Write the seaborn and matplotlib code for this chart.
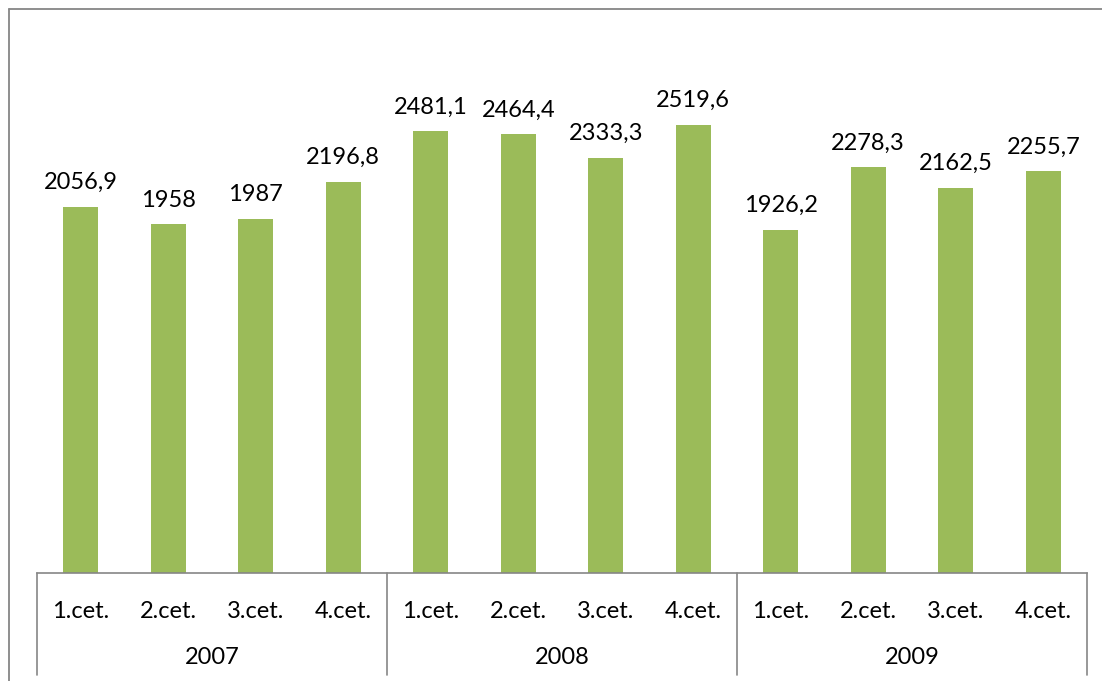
import matplotlib
matplotlib.use("Agg")
import matplotlib.pyplot as plt
import matplotlib.transforms as mtransforms
from matplotlib.lines import Line2D
import seaborn as sns
import pandas as pd

years = ["2007", "2008", "2009"]
quarters = ["1.cet.", "2.cet.", "3.cet.", "4.cet."]
values = [2056.9, 1958, 1987, 2196.8,
          2481.1, 2464.4, 2333.3, 2519.6,
          1926.2, 2278.3, 2162.5, 2255.7]
value_labels = ["2056,9", "1958", "1987", "2196,8",
                "2481,1", "2464,4", "2333,3", "2519,6",
                "1926,2", "2278,3", "2162,5", "2255,7"]

keys = [f"{y} {q}" for y in years for q in quarters]
df = pd.DataFrame({"key": keys, "value": values})

sns.set_theme(style="white")
plt.rcParams["font.family"] = ["Lato", "DejaVu Sans"]

W, H = 1102, 681
fig = plt.figure(figsize=(W / 100, H / 100), dpi=100)
left, right, bottom, top = 37, 1087, 573, 39
ax = fig.add_axes([left / W, 1 - bottom / H, (right - left) / W, (bottom - top) / H])

sns.barplot(data=df, x="key", y="value", order=keys, color="#9BBB59",
            saturation=1, width=0.4, ax=ax, edgecolor="none")

ax.set_ylim(0, 3000)
ax.set_xlim(-0.5, len(keys) - 0.5)
ax.set_xlabel("")
ax.set_ylabel("")
ax.set_yticks([])
for s in ["top", "right", "left"]:
    ax.spines[s].set_visible(False)
ax.spines["bottom"].set_color("#868686")
ax.spines["bottom"].set_linewidth(1.2)

ax.set_xticks(range(len(keys)))
ax.set_xticklabels([q for y in years for q in quarters], fontsize=17, color="black")
ax.tick_params(axis="x", length=0, pad=20)

for i, (v, lab) in enumerate(zip(values, value_labels)):
    ax.annotate(lab, (i, v), xytext=(0, 10), textcoords="offset points",
                ha="center", va="bottom", fontsize=17, color="black")

trans = mtransforms.blended_transform_factory(ax.transData, ax.transAxes)
depth = (675 - 573) / (bottom - top)
for b in [-0.5, 3.5, 7.5, 11.5]:
    ax.add_line(Line2D([b, b], [0, -depth], transform=trans, color="#868686",
                       lw=1.2, clip_on=False))
year_y = -(658 - 573) / (bottom - top)
for gi, y in enumerate(years):
    ax.text(gi * 4 + 1.5, year_y, y, transform=trans, ha="center", va="center",
            fontsize=17, color="black")

# outer chart border (cropped)
bx, by = 8.5 / W, 1 - 9 / H
fig.add_artist(Line2D([bx, bx], [0, by], transform=fig.transFigure, color="#868686", lw=1.3))
fig.add_artist(Line2D([bx, 1], [by, by], transform=fig.transFigure, color="#868686", lw=1.3))

fig.savefig("out.png", dpi=100)
